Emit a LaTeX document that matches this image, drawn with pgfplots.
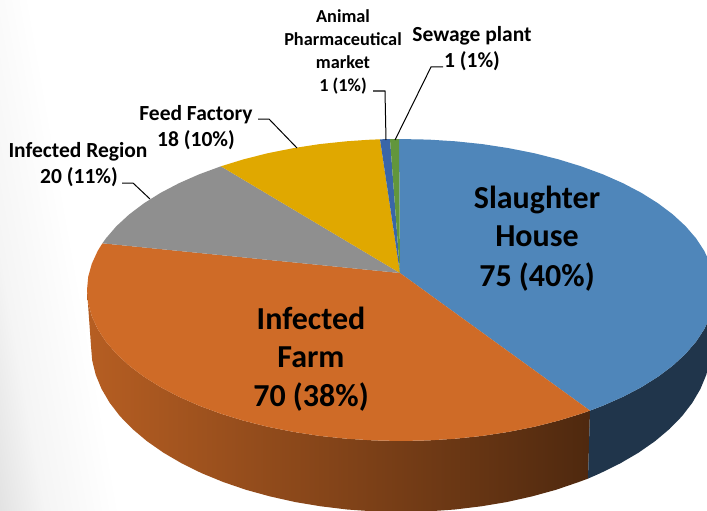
\documentclass[border=0pt]{standalone}
\usepackage{fontspec}
\setmainfont{Carlito}
\usepackage{pgfplots}
\pgfplotsset{compat=1.18}
\definecolor{cBlue}{HTML}{4F86BA}
\definecolor{cBlueDark}{HTML}{20354B}
\definecolor{cOrange}{HTML}{CF6B27}
\definecolor{cGray}{HTML}{8F8F8F}
\definecolor{cYellow}{HTML}{E0A800}
\definecolor{cSmall}{HTML}{3A66A8}
\definecolor{cGreen}{HTML}{62963C}
\newcommand{\bigfont}{\fontsize{32}{32}\selectfont\bfseries}
\newcommand{\midfont}{\fontsize{21.5}{21.5}\selectfont\bfseries}
\newcommand{\smallfont}{\fontsize{18.3}{18.3}\selectfont\bfseries}
\tikzset{lab/.style={inner sep=0pt, anchor=base, text=black}}
\pgfdeclareverticalshading{bgfade}{100bp}{color(0bp)=(black!12); color(21bp)=(black!11); color(30bp)=(black!4); color(45bp)=(white); color(100bp)=(white)}
\begin{document}
\begin{tikzpicture}
\begin{axis}[
  width=707pt, height=511pt, scale only axis,
  axis lines=none,
  xmin=0, xmax=707, ymin=0, ymax=511,
  y dir=reverse
]
% page background, fades out from the left edge
\addplot[draw=none, shade, shading=bgfade, shading angle=-80]
  coordinates {(0,0)(200,0)(200,511)(0,511)};

% side of the pie
\addplot[draw=none, left color=cOrange!88!black, middle color=cOrange!62!black, right color=cOrange!38!black]
  coordinates {(87,290)(88.2,303.2)(91.8,316.2)(97.7,329.1)(105.9,341.6)(116.4,353.8)(129.1,365.5)(143.8,376.6)(160.5,387.1)(179,396.8)(199.2,405.7)(220.9,413.7)(244,420.8)(268.3,426.9)(293.6,431.9)(319.7,435.9)(346.5,438.7)(373.6,440.4)(401,441)(428.4,440.4)(455.5,438.7)(482.3,435.9)(508.4,431.9)(533.7,426.9)(558,420.8)(581.1,413.7)(590,410.6)
  (588,478.6)(578.8,482)(556,489.8)(532,496.4)(507,502)(481.2,506.3)(454.8,509.5)(428,511.4)(401,512)(374,511.4)(347.2,509.5)(320.8,506.3)(295,502)(270,496.4)(246,489.8)(223.2,482)(201.7,473.2)(181.8,463.4)(163.5,452.7)(147,441.2)(132.5,429)(120,416.2)(109.7,402.8)(101.6,389)(95.7,374.8)(92.2,360.5)(91,346)};
\addplot[draw=none, fill=cBlueDark]
  coordinates {(590,410.6)(602.8,405.7)(623,396.8)(641.5,387.1)(658.2,376.6)(672.9,365.5)(685.6,353.8)(696.1,341.6)(704.3,329.1)(710.2,316.2)(713.8,303.2)(715,290)
  (711,346)(709.8,360.5)(706.3,374.8)(700.4,389)(692.3,402.8)(682,416.2)(669.5,429)(655,441.2)(638.5,452.7)(620.2,463.4)(600.3,473.2)(588,478.6)};

% top of the pie
\addplot[draw=none, fill=cBlue]
  coordinates {(400,273)(399,139)(428.4,139.6)(455.5,141.3)(482.3,144.1)(508.4,148.1)(533.7,153.1)(558,159.2)(581.1,166.3)(602.8,174.3)(623,183.2)(641.5,192.9)(658.2,203.4)(672.9,214.5)(685.6,226.2)(696.1,238.4)(704.3,250.9)(710.2,263.8)(713.8,276.8)(715,290)(713.8,303.2)(710.2,316.2)(704.3,329.1)(696.1,341.6)(685.6,353.8)(672.9,365.5)(658.2,376.6)(641.5,387.1)(623,396.8)(602.8,405.7)(590,410.6)};
\addplot[draw=none, fill=cOrange]
  coordinates {(400,273)(590,410.6)(581.1,413.7)(558,420.8)(533.7,426.9)(508.4,431.9)(482.3,435.9)(455.5,438.7)(428.4,440.4)(401,441)(373.6,440.4)(346.5,438.7)(319.7,435.9)(293.6,431.9)(268.3,426.9)(244,420.8)(220.9,413.7)(199.2,405.7)(179,396.8)(160.5,387.1)(143.8,376.6)(129.1,365.5)(116.4,353.8)(105.9,341.6)(97.7,329.1)(91.8,316.2)(88.2,303.2)(87,290)(88.2,276.8)(91.8,263.8)(97.7,250.9)(102.4,243.3)};
\addplot[draw=none, fill=cGray]
  coordinates {(400,273)(102.4,243.3)(105.9,238.4)(116.4,226.2)(129.1,214.5)(143.8,203.4)(160.5,192.9)(179,183.2)(199.2,174.3)(220.9,166.3)};
\addplot[draw=none, fill=cYellow]
  coordinates {(400,273)(220.9,166.3)(244,159.2)(268.3,153.1)(293.6,148.1)(319.7,144.1)(346.5,141.3)(368.2,139.8)(380,139.3)};
\addplot[draw=none, fill=cSmall]
  coordinates {(400,273)(380,139.3)(390,139.1)};
\addplot[draw=none, fill=cGreen]
  coordinates {(400,273)(390,139.1)(399,139)};

% leader lines
\addplot[black, line width=1pt] coordinates {(122,183)(133,183)(150,199)};
\addplot[black, line width=1pt] coordinates {(258,119)(269,119)(297,148)};
\addplot[black, line width=1pt] coordinates {(373,91)(385,91)(386,140)};
\addplot[black, line width=1pt] coordinates {(443,67)(431,67)(395,140)};

% labels
\node[lab, font=\bigfont] at (axis cs:537,208) {Slaughter};
\node[lab, font=\bigfont] at (axis cs:537,246) {House};
\node[lab, font=\bigfont] at (axis cs:537,286) {75 (40\%)};
\node[lab, font=\bigfont] at (axis cs:311,329) {Infected};
\node[lab, font=\bigfont] at (axis cs:311,367) {Farm};
\node[lab, font=\bigfont] at (axis cs:311,406) {70 (38\%)};
\node[lab, font=\midfont] at (axis cs:78,157) {Infected Region};
\node[lab, font=\midfont] at (axis cs:79,183) {20 (11\%)};
\node[lab, font=\midfont] at (axis cs:196,120) {Feed Factory};
\node[lab, font=\midfont] at (axis cs:196,146) {18 (10\%)};
\node[lab, font=\midfont] at (axis cs:472,42) {Sewage plant};
\node[lab, font=\midfont] at (axis cs:472,68) {1 (1\%)};
\node[lab, font=\smallfont] at (axis cs:343,23) {Animal};
\node[lab, font=\smallfont] at (axis cs:343,46) {Pharmaceutical};
\node[lab, font=\smallfont] at (axis cs:343,69) {market};
\node[lab, font=\smallfont] at (axis cs:343,92) {1 (1\%)};
\end{axis}
\end{tikzpicture}
\end{document}
